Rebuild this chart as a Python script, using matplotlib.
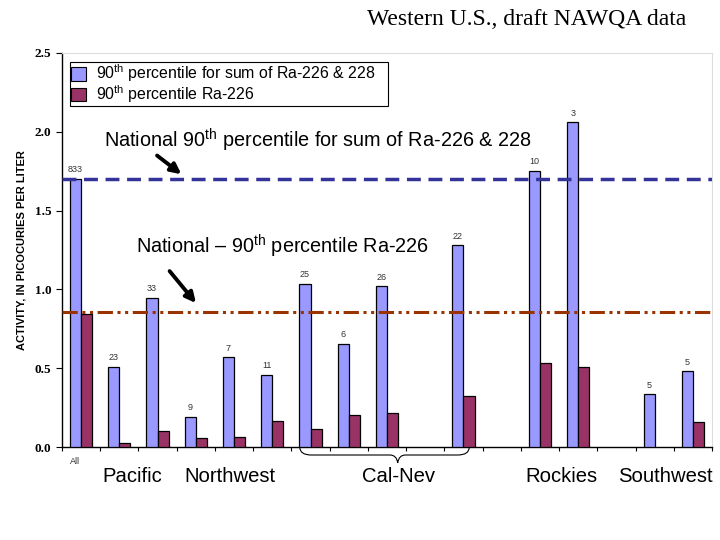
import numpy as np
import matplotlib.pyplot as plt
from matplotlib.path import Path
from matplotlib.patches import PathPatch

plt.rcParams['font.family'] = ['Liberation Sans', 'DejaVu Sans']
plt.rcParams['mathtext.fontset'] = 'custom'
plt.rcParams['mathtext.rm'] = 'Liberation Sans'

# one slot per site group, None = empty slot
slot_labels = ['833', '23', '33', '9', '7', '11', '25', '6', '26', None, '22', None, '10', '3', None, '5', '5']
sum_ra = [1.70, 0.51, 0.945, 0.19, 0.57, 0.46, 1.035, 0.655, 1.02, 0, 1.28, 0, 1.75, 2.06, 0, 0.335, 0.48]
ra226 = [0.845, 0.025, 0.10, 0.06, 0.065, 0.165, 0.115, 0.205, 0.215, 0, 0.325, 0, 0.535, 0.51, 0, 0, 0.16]
national_sum = 1.70
national_226 = 0.86

regions = ['Pacific', 'Northwest', 'Cal-Nev', 'Rockies', 'Southwest']
region_x = [1.35, 3.9, 8.3, 12.55, 15.27]

blue = '#9999FF'
purple = '#993366'

fig = plt.figure(figsize=(7.2, 5.4), dpi=100)
ax = fig.add_axes([0.086, 0.172, 0.903, 0.730])

x = np.arange(len(sum_ra))
w = 0.29
for i in range(len(x)):
    if sum_ra[i] > 0:
        ax.bar(x[i] - w / 2, sum_ra[i], w, color=blue, edgecolor='black', linewidth=0.9, zorder=3)
    if ra226[i] > 0:
        ax.bar(x[i] + w / 2, ra226[i], w, color=purple, edgecolor='black', linewidth=0.9, zorder=3)
    if slot_labels[i]:
        ax.text(x[i] - w / 2, sum_ra[i] + 0.03, slot_labels[i], ha='center', va='bottom',
                fontsize=6.5, color='#333333', zorder=4)

ax.axhline(national_sum, color='#333399', lw=2.5, ls=(0, (4, 2.2)), zorder=5)
ax.axhline(national_226, color='#993300', lw=2.2, ls=(0, (5, 1.5, 1, 1.5, 1, 1.5)), zorder=5)

ax.set_xlim(-0.5, 16.5)
ax.set_ylim(0, 2.5)
ax.set_yticks([0, 0.5, 1.0, 1.5, 2.0, 2.5])
ax.set_yticklabels(['0.0', '0.5', '1.0', '1.5', '2.0', '2.5'], family='Liberation Serif',
                   fontweight='bold', fontsize=9.5)
ax.set_xticks(np.arange(-0.5, 16.6, 1))
ax.set_xticklabels([])
ax.tick_params(axis='x', direction='out', length=3, width=0.8)
ax.tick_params(axis='y', direction='out', length=4, width=0.8)
for s in ['top', 'right']:
    ax.spines[s].set_color('#dddddd')
ax.spines['left'].set_linewidth(1.0)
ax.spines['bottom'].set_linewidth(1.0)

ax.set_ylabel('ACTIVITY, IN PICOCURIES PER LITER', fontsize=8, fontweight='bold', labelpad=6)

# legend
leg_handles = [plt.Rectangle((0, 0), 1, 1, fc=blue, ec='black', lw=0.8),
               plt.Rectangle((0, 0), 1, 1, fc=purple, ec='black', lw=0.8)]
leg = ax.legend(leg_handles, ['90$^{\\mathrm{th}}$ percentile for sum of Ra-226 & 228',
                              '90$^{\\mathrm{th}}$ percentile Ra-226'],
                loc='upper left', bbox_to_anchor=(0.012, 0.877, 0.489, 0.1), mode='expand',
                fontsize=11.4,
                frameon=True, fancybox=False, edgecolor='black', framealpha=1,
                handlelength=1.0, handleheight=0.9, handletextpad=0.6,
                borderpad=0.05, labelspacing=-0.08, borderaxespad=0)
leg.get_frame().set_linewidth(0.8)

# annotations
arrow = dict(arrowstyle='-|>,head_length=0.6,head_width=0.3', color='black', lw=2.8)
ax.annotate('', xy=(2.68, 1.72), xytext=(1.93, 1.86), arrowprops=arrow)
ax.text(0.6, 1.90, 'National 90$^{\\mathrm{th}}$ percentile for sum of Ra-226 & 228',
        fontsize=14.3, ha='left', va='baseline')
ax.annotate('', xy=(3.05, 0.90), xytext=(2.27, 1.13), arrowprops=arrow)
ax.text(1.45, 1.23, 'National \u2013 90$^{\\mathrm{th}}$ percentile Ra-226',
        fontsize=14.3, ha='left', va='baseline')

# region labels below axis
ax.text(-0.15, -0.06, 'All', fontsize=6.5, ha='center', va='top', color='#333333')
for name, xp in zip(regions, region_x):
    ax.text(xp, -0.125, name, fontsize=14.6, ha='center', va='top')

# brace under Cal-Nev
x0, x1, xm = 5.72, 10.15, 8.28
yb, yt, yp = -0.05, 0.0, -0.1
verts = [(x0, yt), (x0, yb), (x0 + 0.3, yb),
         (xm - 0.2, yb), (xm - 0.03, yb), (xm, yp),
         (xm + 0.03, yb), (xm + 0.2, yb),
         (x1 - 0.3, yb), (x1, yb), (x1, yt)]
codes = [Path.MOVETO, Path.CURVE3, Path.CURVE3,
         Path.LINETO, Path.CURVE3, Path.CURVE3,
         Path.CURVE3, Path.CURVE3,
         Path.LINETO, Path.CURVE3, Path.CURVE3]
ax.add_patch(PathPatch(Path(verts, codes), fc='none', ec='black', lw=0.8, clip_on=False))

fig.text(0.731, 0.963, 'Western U.S., draft NAWQA data', family='Liberation Serif',
         fontsize=17, ha='center', va='center')

fig.savefig('out.png', dpi=100)
